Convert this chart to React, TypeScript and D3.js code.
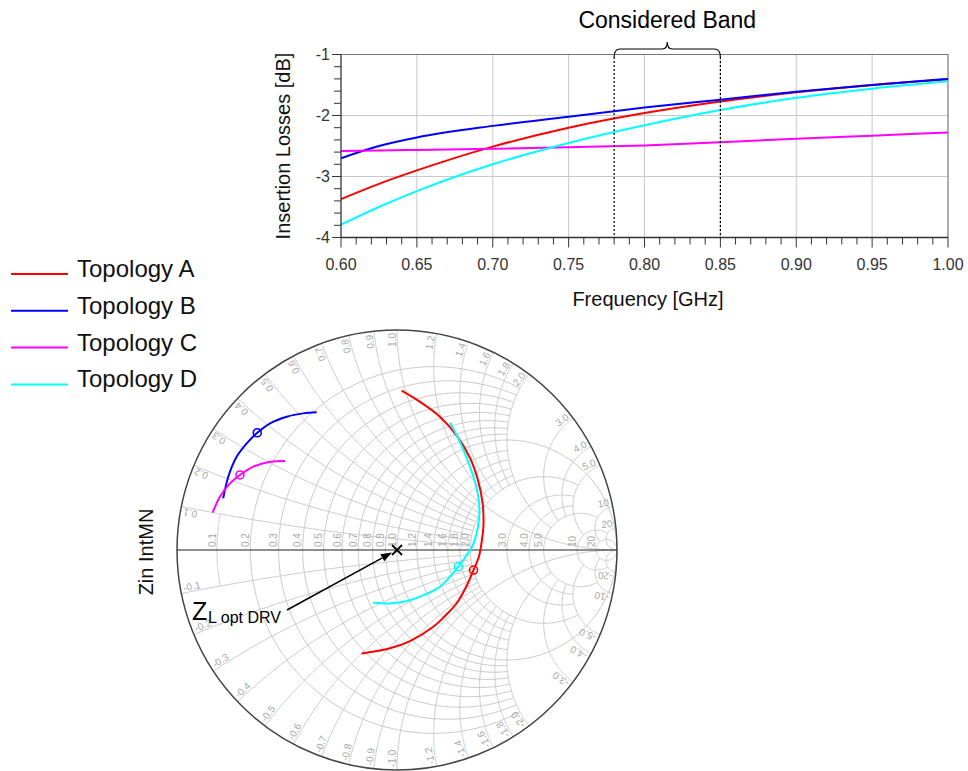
import React from 'react';
import * as d3 from 'd3';

// ---------- Insertion-loss plot data ----------
const freqGHz = [0.6, 0.625, 0.65, 0.7, 0.75, 0.8, 0.85, 0.9, 0.95, 1.0];
const ilTopologyA = [-3.37, -3.12, -2.9, -2.51, -2.2, -1.96, -1.77, -1.62, -1.5, -1.41];
const ilTopologyB = [-2.7, -2.5, -2.36, -2.17, -2.02, -1.87, -1.74, -1.61, -1.5, -1.4];
const ilTopologyC = [-2.58, -2.575, -2.565, -2.545, -2.52, -2.49, -2.44, -2.38, -2.33, -2.28];
const ilTopologyD = [-3.79, -3.5, -3.24, -2.8, -2.45, -2.16, -1.91, -1.71, -1.56, -1.44];

const xTickValues = [0.6, 0.65, 0.7, 0.75, 0.8, 0.85, 0.9, 0.95, 1.0];
const yTickValues = [-1, -2, -3, -4];
const bandLimits = [0.78, 0.85];

const seriesNames = ['Topology A', 'Topology B', 'Topology C', 'Topology D'];
const seriesColors = ['#ff0000', '#0000ff', '#ff00ff', '#00ffff'];

// ---------- Smith chart data (reflection coefficient re, im) ----------
const smithTopologyA: [number, number][] = [
  [0.021, 0.724], [0.105, 0.673], [0.195, 0.606], [0.273, 0.518], [0.332, 0.418],
  [0.368, 0.318], [0.389, 0.214], [0.393, 0.114], [0.386, 0.045], [0.373, -0.027],
  [0.348, -0.091], [0.314, -0.168], [0.271, -0.242], [0.218, -0.3], [0.165, -0.349],
  [0.059, -0.414], [-0.032, -0.447], [-0.161, -0.47],
];
const smithTopologyB: [number, number][] = [
  [-0.79, 0.235], [-0.767, 0.333], [-0.729, 0.424], [-0.683, 0.485], [-0.635, 0.533],
  [-0.577, 0.576], [-0.501, 0.606], [-0.426, 0.621], [-0.365, 0.626],
];
const smithTopologyC: [number, number][] = [
  [-0.838, 0.17], [-0.805, 0.242], [-0.759, 0.303], [-0.714, 0.341], [-0.653, 0.379],
  [-0.577, 0.401], [-0.509, 0.405],
];
const smithTopologyD: [number, number][] = [
  [0.241, 0.579], [0.282, 0.5], [0.317, 0.418], [0.345, 0.341], [0.364, 0.273],
  [0.374, 0.2], [0.373, 0.145], [0.362, 0.076], [0.343, 0.018], [0.314, -0.027],
  [0.279, -0.076], [0.236, -0.127], [0.195, -0.167], [0.15, -0.193], [0.105, -0.212],
  [0.036, -0.234], [-0.032, -0.243], [-0.108, -0.24],
];
const smithMarkers: [number, number][] = [
  [0.348, -0.091], [-0.635, 0.533], [-0.714, 0.341], [0.279, -0.076],
];
const zOptDrv: [number, number] = [0, 0];

const smithGridValues = [0.1, 0.2, 0.3, 0.4, 0.5, 0.6, 0.7, 0.8, 0.9, 1.0, 1.2, 1.4, 1.6, 1.8, 2.0, 3, 4, 5, 10, 20];

// ---------- helpers ----------
function zToGamma(r: number, x: number): [number, number] {
  const den = (r + 1) * (r + 1) + x * x;
  return [((r - 1) * (r + 1) + x * x) / den, (2 * x) / den];
}

function gridLimit(v: number, isR: boolean): number {
  if (isR && v === 0.1) return 0.1;
  if (v === 1 || v === 20) return Infinity;
  if (v < 1) return 2;
  if (v < 2) return 2;
  if (v === 2) return 5;
  if (v < 5) return 5;
  if (v === 5) return 10;
  return 20;
}

function fmt(v: number): string {
  return v >= 10 ? String(v) : v.toFixed(1);
}

export default function App() {
  // top plot scales
  const xS = d3.scaleLinear().domain([0.6, 1.0]).range([341, 948]);
  const yS = d3.scaleLinear().domain([-4, -1]).range([237.5, 54.5]);
  const ilSeries = [ilTopologyA, ilTopologyB, ilTopologyC, ilTopologyD];
  const lineGen = d3
    .line<number>()
    .x((_, i) => xS(freqGHz[i]))
    .y((d) => yS(d))
    .curve(d3.curveMonotoneX);

  const xMinor = d3.range(0, 41).map((i) => 0.6 + i * 0.01);
  const yMinor = d3.range(0, 16).map((i) => -4 + i * 0.2);

  const [bL, bR] = bandLimits.map((b) => xS(b));
  const bM = (bL + bR) / 2;
  const braceY = 49;
  const bracePath = `M${bL},57 Q${bL},${braceY} ${bL + 6},${braceY} L${bM - 5},${braceY} Q${bM},${braceY} ${bM},${braceY - 7} Q${bM},${braceY} ${bM + 5},${braceY} L${bR - 6},${braceY} Q${bR},${braceY} ${bR},57`;

  // smith chart scales
  const gx = d3.scaleLinear().domain([-1, 1]).range([177, 617]);
  const gy = d3.scaleLinear().domain([-1, 1]).range([770, 330]);
  const R = (gx(1) - gx(-1)) / 2;
  const pathG = d3
    .line<[number, number]>()
    .x((d) => gx(d[0]))
    .y((d) => gy(d[1]));
  const traceG = d3
    .line<[number, number]>()
    .x((d) => gx(d[0]))
    .y((d) => gy(d[1]))
    .curve(d3.curveCatmullRom.alpha(0.5));

  const gridPaths: string[] = [];
  const N = 160;
  smithGridValues.forEach((r) => {
    const lim = gridLimit(r, true);
    const B = lim === Infinity ? Math.PI / 2 - 1e-5 : Math.atan(lim / (1 + r));
    const pts: [number, number][] = d3.range(N + 1).map((i) => {
      const b = -B + (2 * B * i) / N;
      return zToGamma(r, (1 + r) * Math.tan(b));
    });
    gridPaths.push(pathG(pts) as string);
  });
  smithGridValues.forEach((x) => {
    const lim = gridLimit(x, false);
    const U = lim === Infinity ? 0.99995 : lim / (1 + lim);
    [1, -1].forEach((s) => {
      const pts: [number, number][] = d3.range(N + 1).map((i) => {
        const u = (U * i) / N;
        return zToGamma(u / (1 - u), s * x);
      });
      gridPaths.push(pathG(pts) as string);
    });
  });

  const rimLabels: { x: number; y: number; rot: number; anchor: string; text: string }[] = [];
  smithGridValues.forEach((v) => {
    [1, -1].forEach((s) => {
      const [re, im] = zToGamma(0, s * v);
      const k = 1 - 3 / R;
      const th = (Math.atan2(im, re) * 180) / Math.PI;
      rimLabels.push({
        x: gx(re * k),
        y: gy(im * k),
        rot: s > 0 ? -th : -(th + 180),
        anchor: s > 0 ? 'end' : 'start',
        text: (s < 0 ? '-' : '') + fmt(v),
      });
    });
  });

  const cX = gx(zOptDrv[0]);
  const cY = gy(zOptDrv[1]);
  const arrowStart: [number, number] = [287, 610];
  const arrowTip: [number, number] = [cX - 5, cY + 2.5];
  const ang = Math.atan2(arrowTip[1] - arrowStart[1], arrowTip[0] - arrowStart[0]);
  const ah = 11;
  const aw = 4;
  const baseX = arrowTip[0] - ah * Math.cos(ang);
  const baseY = arrowTip[1] - ah * Math.sin(ang);
  const arrowHead = `M${arrowTip[0]},${arrowTip[1]} L${baseX - aw * Math.sin(ang)},${baseY + aw * Math.cos(ang)} L${baseX + aw * Math.sin(ang)},${baseY - aw * Math.cos(ang)} Z`;

  const smithTraces = [smithTopologyA, smithTopologyB, smithTopologyC, smithTopologyD];
  const fontFam = "'Liberation Sans', Arial, Helvetica, sans-serif";

  return (
    <svg
      width={968}
      height={771}
      style={{ position: 'absolute', left: 0, top: 0, background: '#fff' }}
      fontFamily={fontFam}
    >
      <rect x={0} y={0} width={968} height={771} fill="#fff" />

      {/* ===== top plot ===== */}
      {xTickValues.slice(1, -1).map((v) => (
        <line key={'gx' + v} x1={xS(v)} x2={xS(v)} y1={yS(-1)} y2={yS(-4)} stroke="#c8c8c8" strokeWidth={1} />
      ))}
      {yTickValues.slice(1, -1).map((v) => (
        <line key={'gy' + v} x1={xS(0.6)} x2={xS(1.0)} y1={yS(v)} y2={yS(v)} stroke="#c8c8c8" strokeWidth={1} />
      ))}
      <line x1={xS(0.6)} x2={xS(1.0)} y1={yS(-1)} y2={yS(-1)} stroke="#777" strokeWidth={1.2} />
      <line x1={xS(1.0)} x2={xS(1.0)} y1={yS(-1)} y2={yS(-4)} stroke="#777" strokeWidth={1.2} />

      {ilSeries.map((s, i) => (
        <path key={'il' + i} d={lineGen(s) as string} fill="none" stroke={seriesColors[i]} strokeWidth={2} />
      ))}

      <line x1={xS(0.6)} x2={xS(0.6)} y1={yS(-1)} y2={yS(-4)} stroke="#333" strokeWidth={1.3} />
      <line x1={xS(0.6)} x2={xS(1.0)} y1={yS(-4)} y2={yS(-4)} stroke="#333" strokeWidth={1.3} />
      {xMinor.map((v, i) => (
        <line key={'xm' + i} x1={xS(v)} x2={xS(v)} y1={yS(-4)} y2={yS(-4) + (i % 5 === 0 ? 10 : 7)} stroke="#333" strokeWidth={1} />
      ))}
      {yMinor.map((v, i) => (
        <line key={'ym' + i} x1={xS(0.6)} x2={xS(0.6) - (i % 5 === 0 ? 9 : 7)} y1={yS(v)} y2={yS(v)} stroke="#333" strokeWidth={1} />
      ))}
      {xTickValues.map((v) => (
        <text key={'xt' + v} x={xS(v)} y={270} fontSize={16} textAnchor="middle" fill="#333">
          {v.toFixed(2)}
        </text>
      ))}
      {yTickValues.map((v) => (
        <text key={'yt' + v} x={330} y={yS(v) + 5.5} fontSize={16} textAnchor="end" fill="#333">
          {String(v)}
        </text>
      ))}
      <text x={648} y={306} fontSize={20} textAnchor="middle" fill="#111">
        Frequency [GHz]
      </text>
      <text x={290} y={146} fontSize={20} textAnchor="middle" fill="#111" transform="rotate(-90 290 146)">
        Insertion Losses [dB]
      </text>

      {bandLimits.map((b) => (
        <line key={'band' + b} x1={xS(b)} x2={xS(b)} y1={57} y2={yS(-4)} stroke="#000" strokeWidth={1.2} strokeDasharray="2,2" />
      ))}
      <path d={bracePath} fill="none" stroke="#000" strokeWidth={1.2} />
      <text x={bM} y={28} fontSize={23} textAnchor="middle" fill="#000">
        Considered Band
      </text>

      {/* ===== legend ===== */}
      {seriesNames.map((n, i) => (
        <g key={'lg' + n}>
          <line x1={11} x2={68} y1={274 + i * 36.8} y2={274 + i * 36.8} stroke={seriesColors[i]} strokeWidth={2} />
          <text x={77} y={277 + i * 36.8} fontSize={24} fill="#111">
            {n}
          </text>
        </g>
      ))}

      {/* ===== Smith chart ===== */}
      {gridPaths.map((d, i) => (
        <path key={'sg' + i} d={d} fill="none" stroke="#cacaca" strokeWidth={1} />
      ))}
      {smithGridValues.map((r) => (
        <text
          key={'ax' + r}
          x={gx((r - 1) / (r + 1)) - 1.5}
          y={gy(0) - 3}
          fontSize={10}
          fill="#a8a8a8"
          textAnchor="start"
          transform={`rotate(-90 ${gx((r - 1) / (r + 1)) - 1.5} ${gy(0) - 3})`}
        >
          {fmt(r)}
        </text>
      ))}
      {rimLabels.map((l, i) => (
        <text
          key={'rl' + i}
          x={l.x}
          y={l.y}
          dy={-1.5}
          fontSize={10}
          fill="#a8a8a8"
          textAnchor={l.anchor}
          transform={`rotate(${l.rot} ${l.x} ${l.y})`}
        >
          {l.text}
        </text>
      ))}
      <circle cx={gx(0)} cy={gy(0)} r={R} fill="none" stroke="#444" strokeWidth={1.5} />
      <line x1={gx(-1)} x2={gx(1)} y1={gy(0)} y2={gy(0)} stroke="#222" strokeWidth={1.2} />

      {smithTraces.map((t, i) => (
        <path key={'st' + i} d={traceG(t) as string} fill="none" stroke={seriesColors[i]} strokeWidth={2} />
      ))}
      {smithMarkers.map((m, i) => (
        <circle key={'mk' + i} cx={gx(m[0])} cy={gy(m[1])} r={4} fill="none" stroke={seriesColors[i]} strokeWidth={1.6} />
      ))}

      <line x1={cX - 5} y1={cY - 5} x2={cX + 5} y2={cY + 5} stroke="#000" strokeWidth={1.8} />
      <line x1={cX - 5} y1={cY + 5} x2={cX + 5} y2={cY - 5} stroke="#000" strokeWidth={1.8} />
      <line x1={arrowStart[0]} y1={arrowStart[1]} x2={baseX} y2={baseY} stroke="#000" strokeWidth={1.5} />
      <path d={arrowHead} fill="#000" />

      <text x={192} y={620} fontSize={25} fill="#000">
        Z
      </text>
      <text x={208} y={623} fontSize={16} fill="#000">
        L opt DRV
      </text>
      <text x={153} y={552} fontSize={20} textAnchor="middle" fill="#111" transform="rotate(-90 153 552)">
        Zin IntMN
      </text>
    </svg>
  );
}
